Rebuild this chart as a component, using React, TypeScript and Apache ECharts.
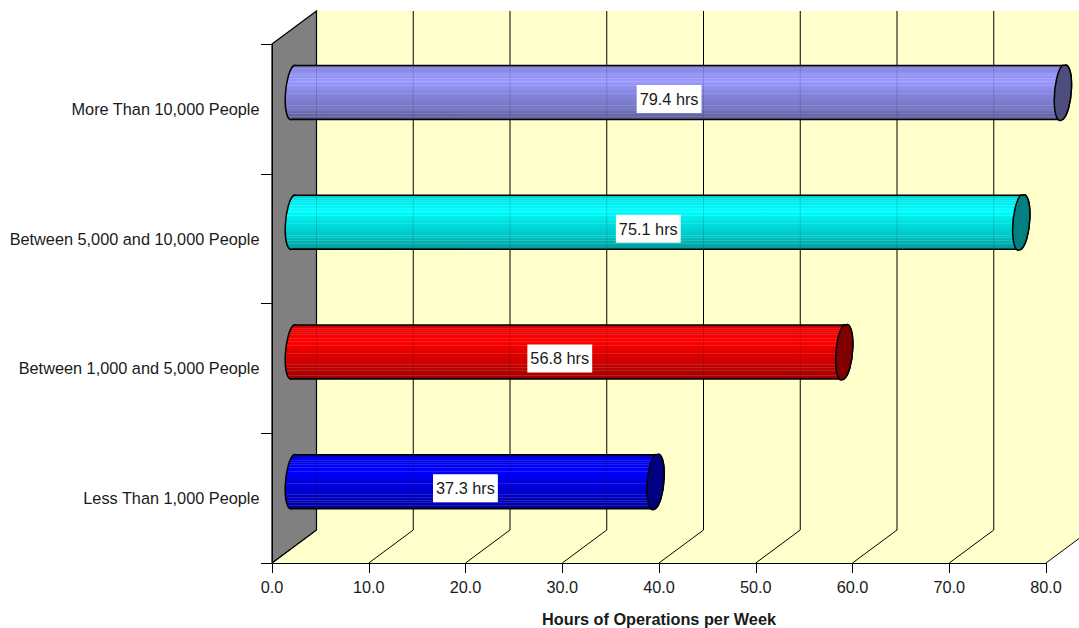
import React, { useEffect, useRef } from "react";
import * as echarts from "echarts";

const categories = [
  "Less Than 1,000 People",
  "Between 1,000 and 5,000 People",
  "Between 5,000 and 10,000 People",
  "More Than 10,000 People",
];
const hours = [37.3, 56.8, 75.1, 79.4];
const barColors = ["#0000FF", "#FF0000", "#00FFFF", "#9999FF"];
const xTicks = [0, 10, 20, 30, 40, 50, 60, 70, 80];

const FONT = '"Liberation Sans", Arial, sans-serif';
const TEXT_COLOR = "#1a1a1a";

// 3D box depth, in pixels
const DEPTH_X = 44.5;
const DEPTH_Y = 33;
// Cylinder geometry, in pixels
const RADIUS_Y = 27;
const RADIUS_X = 7.5;
const TILT_X = 2.2;
const TILT_DEG = 4.7;

// Brightness down the cylinder, as [offset, factor]
const shadingCurve: [number, number][] = [
  [0, 0.74], [0.08, 0.9], [0.3, 1], [0.5, 0.88], [0.75, 0.78], [1, 0.6],
];
// Offsets of the thin facet highlights that run along the cylinder
const facetStripes = [0.06, 0.1, 0.14, 0.18, 0.24, 0.3, 0.37, 0.52, 0.73, 0.78, 0.83, 0.88, 0.93];
const STRIPE_WIDTH = 0.016;
const STRIPE_WHITE = 0.13;

function shade(hex: string, f: number, white: number) {
  const n = parseInt(hex.slice(1), 16);
  const c = (s: number) => Math.round(((n >> s) & 255) * f * (1 - white) + 255 * white);
  return `rgb(${c(16)},${c(8)},${c(0)})`;
}

function brightnessAt(t: number) {
  for (let i = 1; i < shadingCurve.length; i++) {
    const [o0, f0] = shadingCurve[i - 1];
    const [o1, f1] = shadingCurve[i];
    if (t <= o1) return f0 + ((f1 - f0) * (t - o0)) / (o1 - o0);
  }
  return shadingCurve[shadingCurve.length - 1][1];
}

function barGradient(hex: string) {
  const stops: { offset: number; color: string }[] = [{ offset: 0, color: shade(hex, brightnessAt(0), 0) }];
  facetStripes.forEach((o) => {
    const end = o + STRIPE_WIDTH;
    stops.push(
      { offset: o, color: shade(hex, brightnessAt(o), 0) },
      { offset: o, color: shade(hex, brightnessAt(o), STRIPE_WHITE) },
      { offset: end, color: shade(hex, brightnessAt(end), STRIPE_WHITE) },
      { offset: end, color: shade(hex, brightnessAt(end), 0) }
    );
  });
  stops.push({ offset: 1, color: shade(hex, brightnessAt(1), 0) });
  return new echarts.graphic.LinearGradient(0, 0, 0, 1, stops);
}

function renderWalls(params: any, api: any) {
  const { x, y, width, height } = params.coordSys;
  const bottom = y + height;
  const w = api.getWidth();
  const rightEdge = x + width;
  const floorRightY = bottom - ((w - rightEdge) * DEPTH_Y) / DEPTH_X;
  return {
    type: "group",
    children: [
      {
        type: "polygon",
        shape: { points: [[x + DEPTH_X, y - DEPTH_Y], [w, y - DEPTH_Y], [w, floorRightY], [rightEdge, bottom], [x, bottom]] },
        style: { fill: "#FFFFCC" },
      },
      {
        type: "polygon",
        shape: { points: [[x, y], [x + DEPTH_X, y - DEPTH_Y], [x + DEPTH_X, bottom - DEPTH_Y], [x, bottom]] },
        style: { fill: "#808080", stroke: "#000", lineWidth: 1.2 },
      },
    ],
  };
}

function renderGridLine(params: any, api: any) {
  const { y, height } = params.coordSys;
  const px = api.coord([api.value(0), 0])[0];
  const bottom = y + height;
  const w = api.getWidth();
  const children: any[] = [];
  const style = { stroke: "#000", lineWidth: 1 };
  if (px + DEPTH_X <= w) {
    children.push(
      { type: "line", shape: { x1: px, y1: bottom, x2: px + DEPTH_X, y2: bottom - DEPTH_Y }, style },
      { type: "line", shape: { x1: px + DEPTH_X, y1: bottom - DEPTH_Y, x2: px + DEPTH_X, y2: y - DEPTH_Y }, style }
    );
  } else {
    const run = w - px;
    children.push({ type: "line", shape: { x1: px, y1: bottom, x2: w, y2: bottom - (run * DEPTH_Y) / DEPTH_X }, style });
  }
  return { type: "group", children };
}

function renderCylinder(params: any, api: any) {
  const value = api.value(0);
  const index = api.value(1);
  const [front0, frontY] = api.coord([0, index]);
  const frontEnd = api.coord([value, index])[0];
  const cx0 = front0 + DEPTH_X / 2;
  const cx1 = frontEnd + DEPTH_X / 2;
  const cy = frontY - DEPTH_Y / 2;
  const top = cy - RADIUS_Y;
  const low = cy + RADIUS_Y;
  const arc = `A${RADIUS_X} ${RADIUS_Y} ${TILT_DEG} 0 1`;
  const body =
    `M${cx0 + TILT_X} ${top} L${cx1 + TILT_X} ${top} ${arc} ${cx1 - TILT_X} ${low} ` +
    `L${cx0 - TILT_X} ${low} ${arc} ${cx0 + TILT_X} ${top} Z`;
  const cap = `M${cx1 + TILT_X} ${top} ${arc} ${cx1 - TILT_X} ${low} ${arc} ${cx1 + TILT_X} ${top} Z`;
  const color = barColors[params.dataIndex];

  // Back-wall lines show faintly through the cylinder
  const ghosts = xTicks
    .map((t) => api.coord([t, index])[0] + DEPTH_X)
    .filter((gx) => gx < cx1 - RADIUS_X)
    .map((gx) => ({
      type: "line",
      shape: { x1: gx, y1: top + 1, x2: gx, y2: low - 1 },
      style: { stroke: "#000", lineWidth: 1, opacity: 0.14 },
    }));

  return {
    type: "group",
    children: [
      { type: "path", shape: { pathData: body }, style: { fill: barGradient(color), stroke: "#000", lineWidth: 1.5 } },
      ...ghosts,
      { type: "path", shape: { pathData: cap }, style: { fill: shade(color, 0.5, 0), stroke: "#000", lineWidth: 1.5 } },
      {
        type: "text",
        style: {
          text: `${value.toFixed(1)} hrs`,
          x: (front0 + frontEnd) / 2 + 13,
          y: frontY - 10,
          align: "center",
          verticalAlign: "middle",
          fontSize: 16.3,
          fontFamily: FONT,
          fill: TEXT_COLOR,
          backgroundColor: "#fff",
          padding: [6, 3, 6, 3],
        },
      },
    ],
  };
}

export default function App() {
  const ref = useRef<HTMLDivElement>(null);

  useEffect(() => {
    document.body.style.margin = "0";
    const chart = echarts.init(ref.current!, undefined, { renderer: "svg" });
    chart.setOption({
      animation: false,
      backgroundColor: "#fff",
      grid: { left: 272, right: 33, top: 44, bottom: 65, containLabel: false, outerBoundsMode: "none" },
      xAxis: {
        type: "value",
        min: 0,
        max: 80,
        interval: 10,
        z: 5,
        name: "Hours of Operations per Week",
        nameLocation: "middle",
        nameGap: 48,
        nameTextStyle: { fontFamily: FONT, fontSize: 16.3, fontWeight: "bold", color: TEXT_COLOR },
        axisLine: { show: true, lineStyle: { color: "#000", width: 1 } },
        axisTick: { show: true, length: 10, lineStyle: { color: "#000" } },
        axisLabel: { formatter: (v: number) => v.toFixed(1), margin: 16, fontFamily: FONT, fontSize: 16.3, color: TEXT_COLOR },
        splitLine: { show: false },
      },
      yAxis: {
        type: "category",
        data: categories,
        z: 5,
        axisLine: { show: true, lineStyle: { color: "#000", width: 1 } },
        axisTick: { show: true, length: 11, lineStyle: { color: "#000" } },
        axisLabel: { margin: 12.5, fontFamily: FONT, fontSize: 16.3, color: TEXT_COLOR },
        splitLine: { show: false },
      },
      series: [
        { type: "custom", coordinateSystem: "cartesian2d", clip: false, silent: true, z: 1, data: [[0, 0]], renderItem: renderWalls },
        { type: "custom", coordinateSystem: "cartesian2d", clip: false, silent: true, z: 2, data: xTicks.map((t) => [t, 0]), encode: { x: 0, y: 1 }, renderItem: renderGridLine },
        { type: "custom", coordinateSystem: "cartesian2d", clip: false, silent: true, z: 3, data: hours.map((h, i) => [h, i]), encode: { x: 0, y: 1 }, renderItem: renderCylinder },
      ],
    });
    return () => chart.dispose();
  }, []);

  return <div ref={ref} style={{ width: 1079, height: 628 }} />;
}
